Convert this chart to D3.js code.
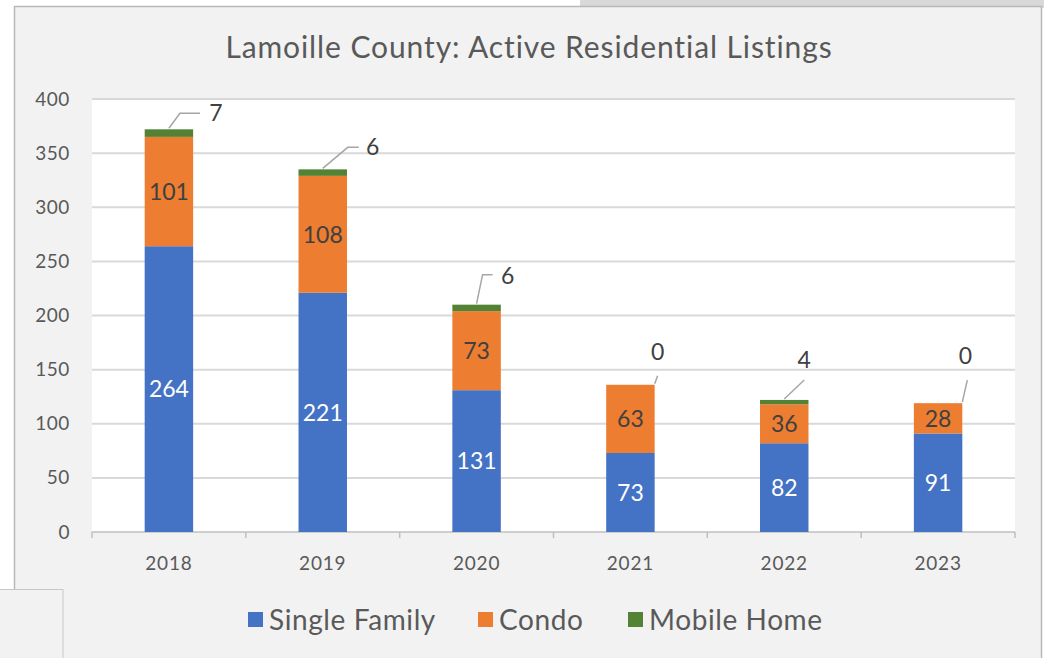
<!DOCTYPE html>
<html>
<head>
<meta charset="utf-8">
<script src="https://cdn.jsdelivr.net/npm/d3@7"></script>
<style>
  html, body { margin: 0; padding: 0; background: #ffffff; }
  svg { display: block; }
  text { font-family: Lato, "Open Sans", sans-serif; }
</style>
</head>
<body>
<svg id="chart" width="1044" height="658"></svg>
<script>
// Active residential listings by year and property type
const years = ["2018", "2019", "2020", "2021", "2022", "2023"];
const singleFamily = [264, 221, 131, 73, 82, 91];
const condo = [101, 108, 73, 63, 36, 28];
const mobileHome = [7, 6, 6, 0, 4, 0];
const seriesNames = ["Single Family", "Condo", "Mobile Home"];
const yTicks = [0, 50, 100, 150, 200, 250, 300, 350, 400];
const chartTitle = "Lamoille County: Active Residential Listings";

// Leader-line callouts for the thin top segment: [bend dx, bend dy, end dx, label dx, label dy]
const callouts = [
  [11, -15, 31, 47, -16],
  [25, -21, 36, 50, -22],
  [6, -29, 16, 31, -28],
  [3, -8, 3, 3, -32],
  [20, -19, 20, 20, -39],
  [5, -22, 5, 3, -46]
];

const colors = ["#4472c4", "#ed7d31", "#548235"];
const svg = d3.select("#chart");

// Page surroundings and chart panel
svg.append("rect").attr("x", 580).attr("y", 0).attr("width", 464).attr("height", 8).attr("fill", "#d9d9d9");
svg.append("rect").attr("x", 14.5).attr("y", 6.5).attr("width", 1027).attr("height", 660)
  .attr("fill", "#f2f2f2").attr("stroke", "#b8b8b8").attr("stroke-width", 1.5);

const plot = { left: 92, right: 1015, top: 99, bottom: 532 };

svg.append("rect").attr("x", plot.left).attr("y", plot.top)
  .attr("width", plot.right - plot.left).attr("height", plot.bottom - plot.top)
  .attr("fill", "#ffffff");

const x = d3.scaleBand().domain(years).range([plot.left, plot.right]).paddingInner(0.685).paddingOuter(0.3425);
const y = d3.scaleLinear().domain([0, 400]).range([plot.bottom, plot.top]);

// Gridlines
svg.append("g").selectAll("line").data(yTicks.filter(d => d > 0)).join("line")
  .attr("x1", plot.left).attr("x2", plot.right)
  .attr("y1", d => y(d)).attr("y2", d => y(d))
  .attr("stroke", "#d9d9d9").attr("stroke-width", 2);

// Y axis labels
const yAxis = svg.append("g").attr("transform", `translate(${plot.left},0)`)
  .call(d3.axisLeft(y).tickValues(yTicks).tickSize(0).tickPadding(22));
yAxis.select(".domain").remove();
yAxis.selectAll("text").attr("font-size", 19).attr("fill", "#595959")
  .attr("font-family", "Lato, sans-serif").attr("letter-spacing", 0.6);

// X axis with category-boundary ticks
const step = x.step();
const xAxisG = svg.append("g");
xAxisG.append("line").attr("x1", plot.left).attr("x2", plot.right)
  .attr("y1", plot.bottom).attr("y2", plot.bottom)
  .attr("stroke", "#bfbfbf").attr("stroke-width", 1.5);
xAxisG.selectAll("line.tick").data(d3.range(years.length + 1)).join("line")
  .attr("class", "tick")
  .attr("x1", i => plot.left + i * step).attr("x2", i => plot.left + i * step)
  .attr("y1", plot.bottom).attr("y2", plot.bottom + 6)
  .attr("stroke", "#bfbfbf").attr("stroke-width", 1.5);
xAxisG.selectAll("text").data(years).join("text")
  .attr("x", d => x(d) + x.bandwidth() / 2).attr("y", plot.bottom + 31)
  .attr("dy", "0.36em")
  .attr("text-anchor", "middle").attr("font-size", 19).attr("fill", "#595959")
  .attr("letter-spacing", 0.8)
  .text(d => d);

// Stacked bars
const rows = years.map((yr, i) => ({ year: yr, s0: singleFamily[i], s1: condo[i], s2: mobileHome[i] }));
const stack = d3.stack().keys(["s0", "s1", "s2"]);
const layers = stack(rows);

svg.append("g").selectAll("g").data(layers).join("g")
  .attr("fill", (d, i) => colors[i])
  .selectAll("rect").data(d => d).join("rect")
  .attr("x", d => x(d.data.year))
  .attr("width", x.bandwidth())
  .attr("y", d => y(d[1]))
  .attr("height", d => y(d[0]) - y(d[1]));

// Labels inside the first two segments
const inside = svg.append("g");
[0, 1].forEach(k => {
  inside.selectAll(null).data(layers[k]).join("text")
    .attr("x", d => x(d.data.year) + x.bandwidth() / 2)
    .attr("y", d => (y(d[0]) + y(d[1])) / 2)
    .attr("dy", "0.36em")
    .attr("text-anchor", "middle")
    .attr("font-size", 23)
    .attr("fill", k === 0 ? "#ffffff" : "#404040")
    .text(d => d[1] - d[0]);
});

// Callout labels for the top segment
const topLayer = layers[2];
const callG = svg.append("g");
topLayer.forEach((d, i) => {
  const c = callouts[i];
  const bx = x(d.data.year) + x.bandwidth() / 2 + (mobileHome[i] === 0 ? x.bandwidth() / 2 : 0);
  const by = y(d[1]) - 1;
  callG.append("path")
    .attr("d", d3.line()([[bx, by], [bx + c[0], by + c[1]], [bx + c[2], by + c[1]]]))
    .attr("fill", "none").attr("stroke", "#a6a6a6").attr("stroke-width", 1.5);
  callG.append("text")
    .attr("x", bx + c[3]).attr("y", by + c[4])
    .attr("dy", "0.36em").attr("text-anchor", "middle")
    .attr("font-size", 23).attr("fill", "#404040")
    .text(mobileHome[i]);
});

// Title
svg.append("text").attr("x", 529).attr("y", 47).attr("dy", "0.36em").attr("text-anchor", "middle")
  .attr("font-size", 30).attr("letter-spacing", 0.9).attr("fill", "#595959").text(chartTitle);

// Legend
const legendX = [248, 478, 628];
const legend = svg.append("g");
seriesNames.forEach((name, i) => {
  legend.append("rect").attr("x", legendX[i]).attr("y", 612).attr("width", 15).attr("height", 15)
    .attr("fill", colors[i]);
  legend.append("text").attr("x", legendX[i] + 21).attr("y", 620).attr("dy", "0.36em")
    .attr("font-size", 28).attr("letter-spacing", 0.6).attr("fill", "#595959").text(name);
});

// Corner box overlapping the panel
svg.append("rect").attr("x", -1).attr("y", 589.5).attr("width", 64).attr("height", 70)
  .attr("fill", "#f2f2f2").attr("stroke", "#c8c8c8").attr("stroke-width", 1);
</script>
</body>
</html>
